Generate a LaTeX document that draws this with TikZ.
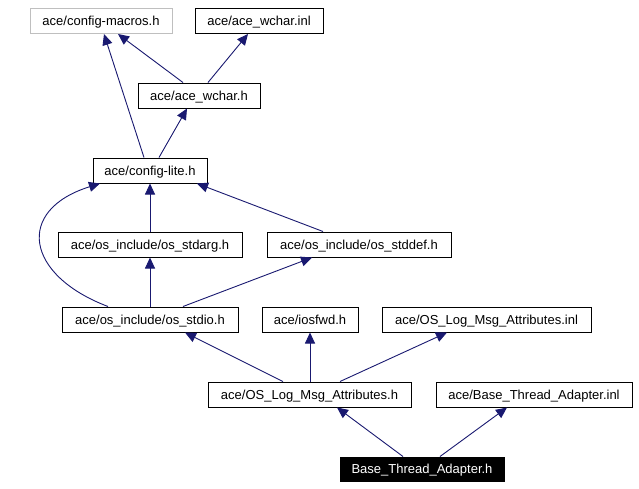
\documentclass[tikz,border=0pt]{standalone}
\usepackage{fontspec}
\setmainfont{Liberation Sans}
\usetikzlibrary{arrows.meta}
\definecolor{edgec}{HTML}{191970}
\definecolor{greyb}{HTML}{BFBFBF}
\begin{document}
\begin{tikzpicture}[x=1pt,y=-1pt,
  box/.style={draw=black,line width=1pt,rectangle,inner sep=0pt,minimum height=25pt,
    text height=11pt,text depth=2pt,
    font=\fontsize{13}{15}\selectfont},
  edge/.style={draw=edgec,line width=0.9pt,-{Triangle[length=11pt,width=10pt]}}]
\useasboundingbox (0,0) rectangle (639,488);
\node[box,draw=greyb,minimum width=142pt] (cm) at (101,21) {ace/config-macros.h};
\node[box,minimum width=128pt] (wi) at (259,21) {ace/ace\_wchar.inl};
\node[box,minimum width=122pt] (wh) at (199,95.5) {ace/ace\_wchar.h};
\node[box,minimum width=114pt] (cl) at (150,170.5) {ace/config-lite.h};
\node[box,minimum width=184pt] (sa) at (150,244.5) {ace/os\_include/os\_stdarg.h};
\node[box,minimum width=184pt] (sd) at (359,244.5) {ace/os\_include/os\_stddef.h};
\node[box,minimum width=176pt] (si) at (150,319.5) {ace/os\_include/os\_stdio.h};
\node[box,minimum width=96pt] (io) at (310,319.5) {ace/iosfwd.h};
\node[box,minimum width=209pt] (li) at (486.5,319.5) {ace/OS\_Log\_Msg\_Attributes.inl};
\node[box,minimum width=203pt] (lh) at (309.5,394.5) {ace/OS\_Log\_Msg\_Attributes.h};
\node[box,minimum width=196pt] (bi) at (534,394.5) {ace/Base\_Thread\_Adapter.inl};
\node[box,fill=black,text=white,minimum width=164pt,minimum height=24pt] (bh) at (422,469) {Base\_Thread\_Adapter.h};

\draw[edge] ([xshift=-16pt]wh.north) -- ([xshift=17pt]cm.south);
\draw[edge] ([xshift=9pt]wh.north) -- ([xshift=-11pt]wi.south);
\draw[edge] ([xshift=-6pt]cl.north) -- ([xshift=3pt]cm.south);
\draw[edge] ([xshift=9pt]cl.north) -- ([xshift=-12pt]wh.south);
\draw[edge] (sa.north) -- (cl.south);
\draw[edge] ([xshift=-36pt]sd.north) -- ([xshift=47pt]cl.south);
\draw[edge] ([xshift=-42pt]si.north) .. controls (25,275) and (15,210) .. ([xshift=-50pt]cl.south);
\draw[edge] (si.north) -- (sa.south);
\draw[edge] ([xshift=33pt]si.north) -- ([xshift=-47pt]sd.south);
\draw[edge] ([xshift=-26.5pt]lh.north) -- ([xshift=35pt]si.south);
\draw[edge] ([xshift=0.5pt]lh.north) -- (io.south);
\draw[edge] ([xshift=30.5pt]lh.north) -- ([xshift=-39.5pt]li.south);
\draw[edge] ([xshift=-19pt]bh.north) -- ([xshift=27.5pt]lh.south);
\draw[edge] ([xshift=18pt]bh.north) -- ([xshift=-27pt]bi.south);
\end{tikzpicture}
\end{document}
